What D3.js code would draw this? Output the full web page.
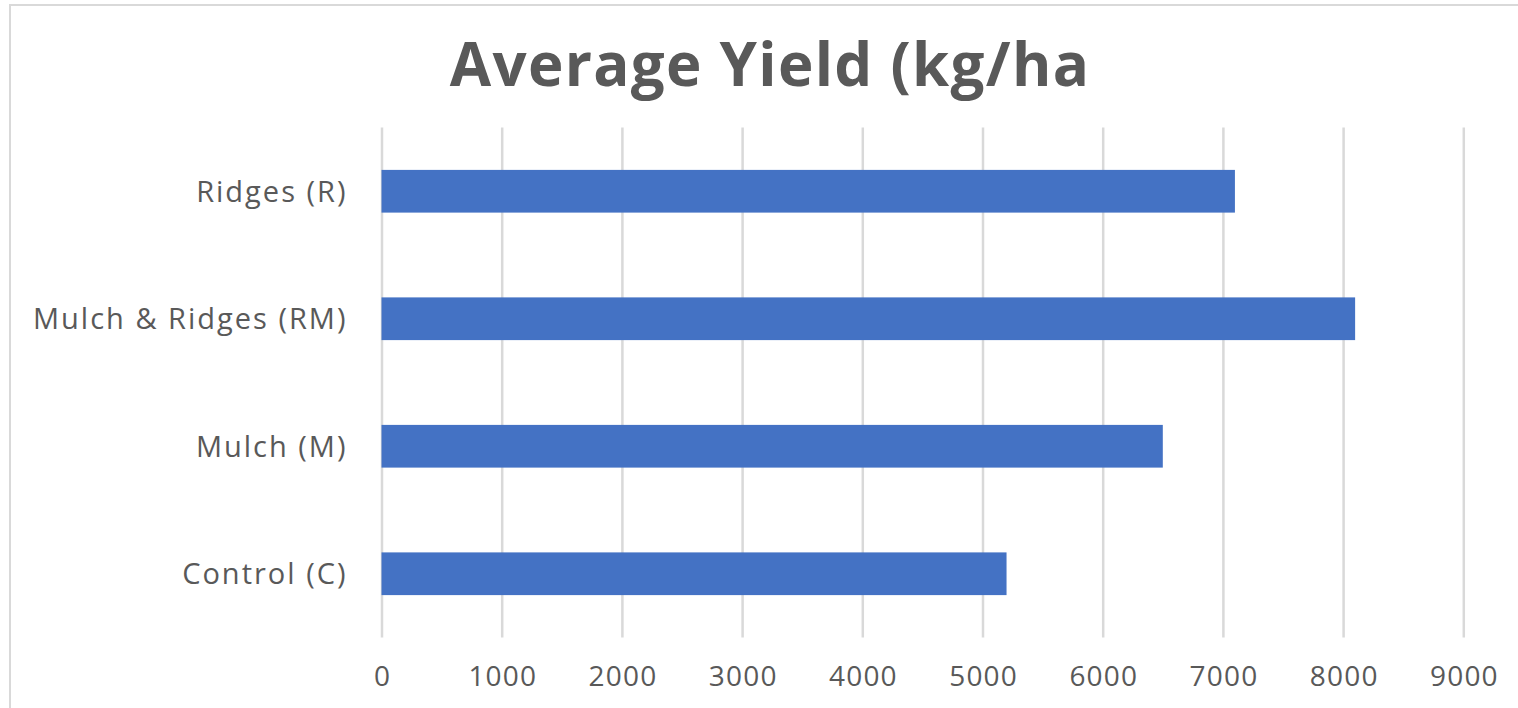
<!DOCTYPE html>
<html>
<head>
<meta charset="utf-8">
<script src="https://cdn.jsdelivr.net/npm/d3@7"></script>
<style>
  html, body { margin: 0; padding: 0; background: #fff; }
  svg { display: block; }
</style>
</head>
<body>
<svg id="chart" width="1518" height="708"></svg>
<script>
const title = "Average Yield (kg/ha";
const categories = ["Ridges (R)", "Mulch & Ridges (RM)", "Mulch (M)", "Control (C)"];
const values = [7100, 8100, 6500, 5200];
const xTicks = [0, 1000, 2000, 3000, 4000, 5000, 6000, 7000, 8000, 9000];

const svg = d3.select("#chart");
const margin = { left: 381.5, right: 1463.3, top: 127.5, bottom: 637.5 };
const textColor = "#595959";
const font = "'Open Sans', sans-serif";

// chart border
svg.append("rect")
  .attr("x", 10).attr("y", 5)
  .attr("width", 1530).attr("height", 730)
  .attr("fill", "#fff")
  .attr("stroke", "#d9d9d9").attr("stroke-width", 2);

const x = d3.scaleLinear().domain([0, 9000]).range([margin.left, margin.right]);
const y = d3.scaleBand().domain(categories).range([margin.top, margin.bottom]).paddingInner(0.665).paddingOuter(0.3325);

// gridlines
const grid = svg.append("g")
  .attr("transform", `translate(0,${margin.bottom})`)
  .call(d3.axisBottom(x).tickValues(xTicks).tickSize(-(margin.bottom - margin.top)).tickFormat(""));
grid.select(".domain").remove();
grid.selectAll("line").attr("stroke", "#d9d9d9").attr("stroke-width", 2.5);

// bars
svg.append("g").selectAll("rect")
  .data(categories)
  .join("rect")
  .attr("x", x(0))
  .attr("y", d => y(d))
  .attr("width", (d, i) => x(values[i]) - x(0))
  .attr("height", y.bandwidth())
  .attr("fill", "#4472c4");

// x tick labels
const xAxis = svg.append("g")
  .attr("transform", `translate(0,${margin.bottom})`)
  .call(d3.axisBottom(x).tickValues(xTicks).tickSize(0).tickPadding(0).tickFormat(d3.format("d")));
xAxis.select(".domain").remove();
xAxis.selectAll("text")
  .attr("y", 48)
  .attr("dy", 0)
  .attr("dx", 0.6)
  .attr("fill", textColor)
  .style("font-family", font)
  .style("font-size", "28px")
  .style("letter-spacing", "1.2px");

// category labels
const yAxis = svg.append("g")
  .attr("transform", `translate(${margin.left},0)`)
  .call(d3.axisLeft(y).tickSize(0).tickPadding(34));
yAxis.select(".domain").remove();
yAxis.selectAll("text")
  .attr("fill", textColor)
  .attr("dy", "0.36em")
  .style("font-family", font)
  .style("font-size", "29px")
  .style("letter-spacing", "2px");

// title
svg.append("text")
  .attr("x", 770).attr("y", 86)
  .attr("text-anchor", "middle")
  .attr("fill", textColor)
  .style("font-family", font)
  .style("font-weight", "700")
  .style("font-size", "60px")
  .style("letter-spacing", "1.3px")
  .text(title);
</script>
</body>
</html>
